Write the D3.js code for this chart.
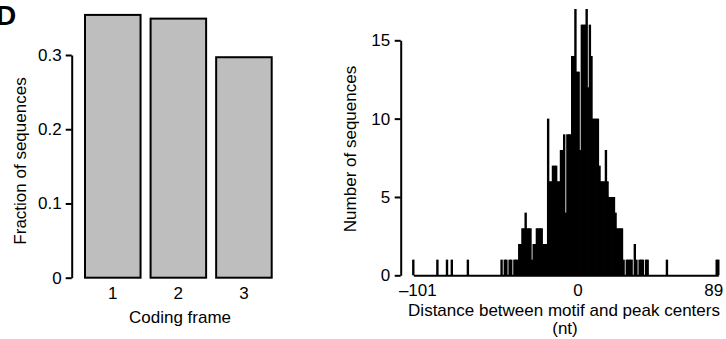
<!DOCTYPE html>
<html>
<head>
<meta charset="utf-8">
<script src="https://cdn.jsdelivr.net/npm/d3@7"></script>
<style>
  body { margin: 0; background: #fff; }
  text { font-family: "Liberation Sans", Arial, Helvetica, sans-serif; }
</style>
</head>
<body>
<div id="chart"></div>
<script>
// panel D, left: coding frame fractions
var frames = [1, 2, 3];
var fractions = [0.354, 0.349, 0.297];
var fracTicks = [0, 0.1, 0.2, 0.3];

// panel D, right: motif-to-peak distance counts (nonzero bins only)
var distances = [-101, -86, -80, -77, -67,
  -46, -44, -43, -41, -40, -38, -37, -36, -35, -34, -33, -32, -31, -30, -29, -28, -27, -26, -25,
  -24, -23, -22, -21, -20, -19, -18, -17, -16, -15, -14, -13, -12, -11, -10, -9, -8, -7, -6, -5,
  -4, -3, -2, -1, 0, 1, 2, 3, 4, 5, 6, 7, 8, 9, 10, 11, 12, 13, 14, 15, 16, 17, 18, 19, 20,
  21, 22, 23, 24, 25, 26, 27, 28, 29, 30, 32, 33, 34, 35, 37, 38, 40, 41, 42, 44, 45,
  57, 88, 89];
var counts = [1, 1, 1, 1, 1,
  1, 1, 1, 1, 1, 1, 1, 1, 2, 2, 3, 3, 4, 3, 3, 3, 1, 2, 2,
  3, 3, 3, 3, 2, 2, 2, 10, 6, 6, 7, 7, 7, 6, 6, 8, 8, 9, 4, 9,
  9, 9, 14, 14, 17, 13, 13, 8, 16, 16, 16, 17, 12, 16, 14, 10, 10, 10, 10, 7, 6, 6, 6, 8, 6,
  5, 5, 5, 5, 4, 3, 3, 3, 3, 1, 1, 1, 1, 1, 2, 1, 1, 1, 1, 1, 1,
  1, 1, 1];
var countTicks = [0, 5, 10, 15];
var distTicks = [-101, 0, 89];

var W = 726, H = 339, FS = 17;

var svg = d3.select("#chart").append("svg")
  .attr("width", W)
  .attr("height", H);

// panel letter, partly cut at the left edge
svg.append("text")
  .attr("x", -4)
  .attr("y", 25)
  .attr("font-size", 28)
  .attr("font-weight", "bold")
  .text("D");

// ---------- left panel ----------
var x1 = d3.scaleBand()
  .domain(frames)
  .range([85, 271.7])
  .paddingInner(0.153)
  .paddingOuter(0);

var y1 = d3.scaleLinear()
  .domain([0, 0.3])
  .range([277.7, 55]);

svg.append("g")
  .selectAll("rect")
  .data(frames)
  .enter()
  .append("rect")
  .attr("x", function(d) { return x1(d); })
  .attr("y", function(d, i) { return y1(fractions[i]); })
  .attr("width", x1.bandwidth())
  .attr("height", function(d, i) { return y1(0) - y1(fractions[i]); })
  .attr("fill", "#bebebe")
  .attr("stroke", "#000")
  .attr("stroke-width", 2);

var yAxis1 = svg.append("g")
  .attr("transform", "translate(71.7,0)")
  .call(d3.axisLeft(y1)
    .tickValues(fracTicks)
    .tickSize(6)
    .tickSizeOuter(0)
    .tickPadding(4)
    .tickFormat(function(d) { return d === 0 ? "0" : d3.format(".1f")(d); }));

var xAxis1 = svg.append("g")
  .attr("transform", "translate(0,277.7)")
  .call(d3.axisBottom(x1).tickSize(0).tickPadding(9));
xAxis1.select(".domain").remove();

svg.append("text")
  .attr("x", 180)
  .attr("y", 323)
  .attr("text-anchor", "middle")
  .attr("font-size", FS)
  .text("Coding frame");

svg.append("text")
  .attr("transform", "translate(26,161) rotate(-90)")
  .attr("text-anchor", "middle")
  .attr("font-size", FS)
  .text("Fraction of sequences");

// ---------- right panel ----------
var x2 = d3.scaleLinear()
  .domain([-101, 89])
  .range([413.3, 718.3]);

var y2 = d3.scaleLinear()
  .domain([0, 15])
  .range([275.3, 40.3]);

svg.append("g")
  .selectAll("line")
  .data(distances)
  .enter()
  .append("line")
  .attr("x1", function(d) { return x2(d); })
  .attr("x2", function(d) { return x2(d); })
  .attr("y1", y2(0))
  .attr("y2", function(d, i) { return y2(counts[i]); })
  .attr("stroke", "#000")
  .attr("stroke-width", 2.4);

var xAxis2 = svg.append("g")
  .attr("transform", "translate(0," + y2(0) + ")")
  .call(d3.axisBottom(x2)
    .tickValues(distTicks)
    .tickSize(0)
    .tickPadding(9)
    .tickFormat(function(d) { return d < 0 ? "\u2013" + Math.abs(d) : String(d); }));
xAxis2.select(".domain").attr("stroke-width", 2);
// end labels sit a little inward, as in the original figure
xAxis2.selectAll(".tick text")
  .attr("dx", function(d) { return d < 0 ? 4 : d > 0 ? -5 : 2; });

var yAxis2 = svg.append("g")
  .attr("transform", "translate(400.7,0)")
  .call(d3.axisLeft(y2)
    .tickValues(countTicks)
    .tickSize(6)
    .tickSizeOuter(0)
    .tickPadding(4.5));

svg.append("text")
  .attr("x", 564)
  .attr("y", 316)
  .attr("text-anchor", "middle")
  .attr("font-size", FS)
  .text("Distance between motif and peak centers");

svg.append("text")
  .attr("x", 565)
  .attr("y", 334)
  .attr("text-anchor", "middle")
  .attr("font-size", FS)
  .text("(nt)");

svg.append("text")
  .attr("transform", "translate(356,149) rotate(-90)")
  .attr("text-anchor", "middle")
  .attr("font-size", FS)
  .text("Number of sequences");

// shared axis styling
[yAxis1, xAxis1, xAxis2, yAxis2].forEach(function(g) {
  g.attr("font-family", null).attr("font-size", FS);
  g.selectAll("text").attr("fill", "#000");
  g.selectAll("line").attr("stroke", "#000").attr("stroke-width", 2);
});
[yAxis1, yAxis2].forEach(function(g) {
  g.select(".domain").attr("stroke", "#000").attr("stroke-width", 2);
});
</script>
</body>
</html>
